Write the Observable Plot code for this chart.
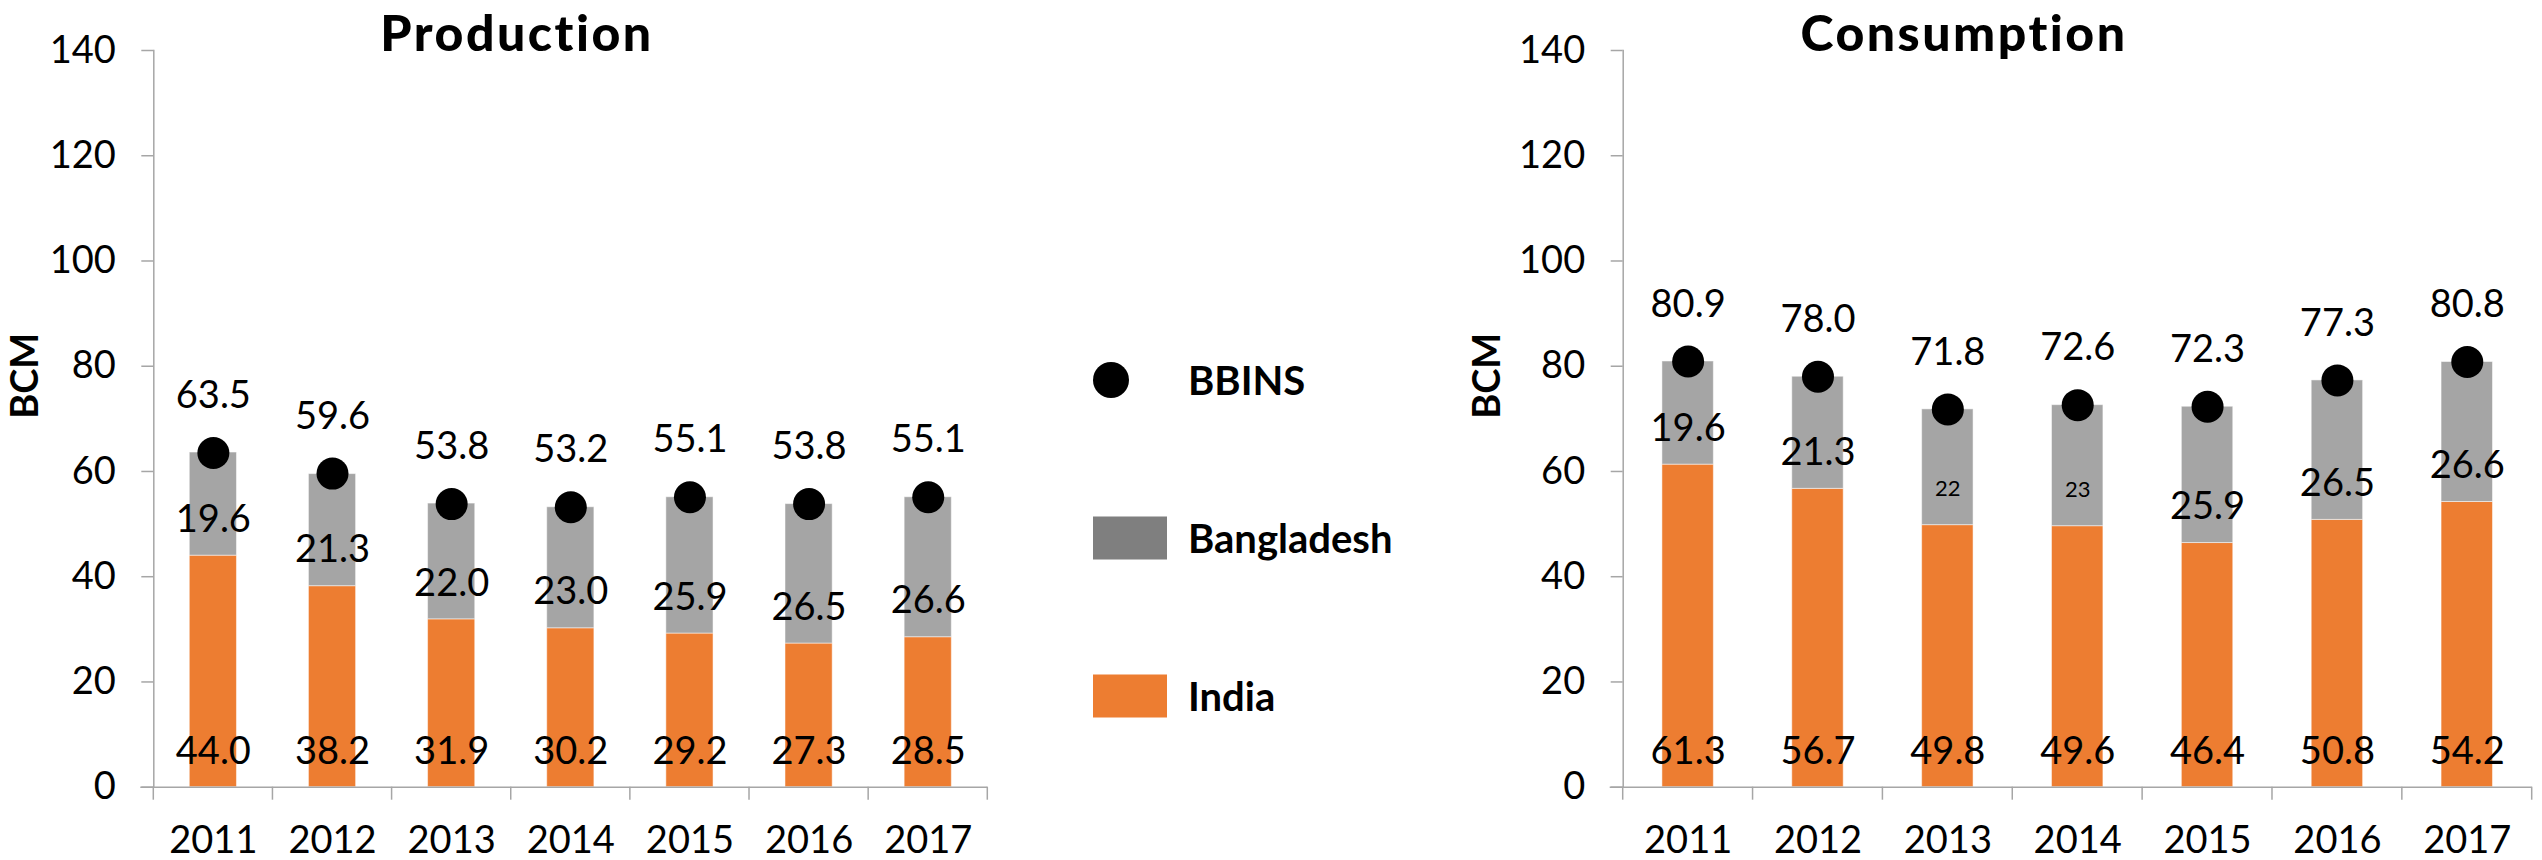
<!DOCTYPE html>
<html>
<head>
<meta charset="utf-8">
<script src="https://cdn.jsdelivr.net/npm/d3@7"></script>
<script src="https://cdn.jsdelivr.net/npm/@observablehq/plot@0.6"></script>
<style>
  html, body { margin: 0; padding: 0; background: #fff; }
  #root { position: relative; width: 2542px; height: 860px; overflow: hidden; font-family: Lato, "Open Sans", sans-serif; }
  #root > svg, #root > .panel { position: absolute; top: 0; }
</style>
</head>
<body>
<div id="root"></div>
<script>
// ---------- data ----------
const years = ["2011", "2012", "2013", "2014", "2015", "2016", "2017"];

const prodIndia      = [44.0, 38.2, 31.9, 30.2, 29.2, 27.3, 28.5];
const prodBangladesh = [19.6, 21.3, 22.0, 23.0, 25.9, 26.5, 26.6];
const prodBangladeshLabels = ["19.6", "21.3", "22.0", "23.0", "25.9", "26.5", "26.6"];
const prodTotal      = [63.5, 59.6, 53.8, 53.2, 55.1, 53.8, 55.1];

const consIndia      = [61.3, 56.7, 49.8, 49.6, 46.4, 50.8, 54.2];
const consBangladesh = [19.6, 21.3, 22.0, 23.0, 25.9, 26.5, 26.6];
const consBangladeshLabels = ["19.6", "21.3", "22", "23", "25.9", "26.5", "26.6"];
const consTotal      = [80.9, 78.0, 71.8, 72.6, 72.3, 77.3, 80.8];

const yTicks = [0, 20, 40, 60, 80, 100, 120, 140];
const stackSeries = ["India", "Bangladesh"];
const stackColors = ["#ed7d31", "#a5a5a5"];
const legendNames  = ["BBINS", "Bangladesh", "India"];
const legendColors = ["#000000", "#7f7f7f", "#ed7d31"];
const titles = ["Production", "Consumption"];

// ---------- layout ----------
const H = 860, MT = 50, MB = 73.3;
const AXIS = "#a6a6a6";
const FONT = "Lato, 'Open Sans', sans-serif";

function panel({left, width, marginLeft, marginRight, labelX, india, bangla, banglaLabels, total}) {
  const rows = [];
  years.forEach((yr, i) => {
    rows.push({year: yr, series: stackSeries[0], value: india[i]});
    rows.push({year: yr, series: stackSeries[1], value: bangla[i]});
  });
  const pts = years.map((yr, i) => ({year: yr, india: india[i], label: banglaLabels[i], total: total[i]}));

  const plot = Plot.plot({
    width, height: H, marginLeft, marginRight, marginTop: MT, marginBottom: MB,
    style: {fontFamily: FONT, background: "transparent", overflow: "visible", color: "#000"},
    x: {domain: years, paddingInner: 0.604, paddingOuter: 0.302, round: false, label: null},
    y: {domain: [0, 140], label: null},
    color: {domain: stackSeries, range: stackColors},
    marks: [
      Plot.barY(rows, {x: "year", y: "value", fill: "series", stroke: "#ffffff", strokeOpacity: 0.5, strokeWidth: 1}),
      Plot.frame({anchor: "left", stroke: AXIS, strokeWidth: 1.5}),
      Plot.ruleY([0], {stroke: AXIS, strokeWidth: 1.5, insetLeft: -13}),
      Plot.axisY({ticks: yTicks, tickSize: 12, tickPadding: 26, fontSize: 38, stroke: AXIS, strokeWidth: 1.5, label: null}),
      Plot.axisX({tickSize: 0, tickPadding: 39, fontSize: 38, label: null}),
      Plot.dot(pts, {x: "year", y: "total", r: 16, fill: "#000"}),
      Plot.text(pts, {x: "year", y: "total", text: d => d.total.toFixed(1), dy: -57, fontSize: 38, fill: "#000"}),
      Plot.text(pts, {x: "year", y: () => 0, text: d => d.india.toFixed(1), dy: -35, fontSize: 38, fill: "#000"}),
      Plot.text(pts, {x: "year", y: "india", text: "label", dy: -36,
        fontSize: d => (d.label.includes(".") ? 38 : 22), fill: "#000"}),
      Plot.text(["BCM"], {frameAnchor: "left", dx: -(marginLeft - labelX), rotate: -90, fontSize: 38, fontWeight: "bold", fill: "#000"})
    ]
  });

  // category boundary ticks (Excel style) derived from the band scale
  const xs = plot.scale("x");
  const ys = plot.scale("y");
  const gap = xs.step - xs.bandwidth;
  const bounds = years.map(yr => xs.apply(yr) - gap / 2);
  bounds.push(xs.apply(years[years.length - 1]) + xs.bandwidth + gap / 2);
  const y0 = ys.apply(0);
  const g = d3.select(plot).append("g").attr("stroke", AXIS).attr("stroke-width", 1.5);
  bounds.forEach(bx => g.append("line").attr("x1", bx).attr("x2", bx).attr("y1", y0).attr("y2", y0 + 13));

  plot.setAttribute("class", "panel");
  plot.style.left = left + "px";
  return plot;
}

const root = document.getElementById("root");
root.appendChild(panel({left: 0, width: 1000, marginLeft: 153.3, marginRight: 12.7, labelX: 25,
  india: prodIndia, bangla: prodBangladesh, banglaLabels: prodBangladeshLabels, total: prodTotal}));
root.appendChild(panel({left: 1450, width: 1092, marginLeft: 172.7, marginRight: 10.3, labelX: 37,
  india: consIndia, bangla: consBangladesh, banglaLabels: consBangladeshLabels, total: consTotal}));

// ---------- titles & legend overlay ----------
const ov = d3.select(root).append("svg").attr("width", 2542).attr("height", H)
  .style("position", "absolute").style("left", 0).style("top", 0)
  .style("font-family", FONT);

const titleX = [517, 1964];
titles.forEach((t, i) => {
  ov.append("text").attr("x", titleX[i]).attr("y", 51).attr("text-anchor", "middle")
    .attr("font-size", 50).attr("font-weight", 900).attr("letter-spacing", 2.5).text(t);
});

const legendY = [380, 538, 696];
legendNames.forEach((name, i) => {
  if (i === 0) {
    ov.append("circle").attr("cx", 1111).attr("cy", legendY[i]).attr("r", 18).attr("fill", legendColors[i]);
  } else {
    ov.append("rect").attr("x", 1093).attr("y", legendY[i] - 21.5).attr("width", 74).attr("height", 43).attr("fill", legendColors[i]);
  }
  ov.append("text").attr("x", 1188).attr("y", legendY[i] + 15).attr("font-size", 40).attr("font-weight", "bold").text(name);
});
</script>
</body>
</html>
